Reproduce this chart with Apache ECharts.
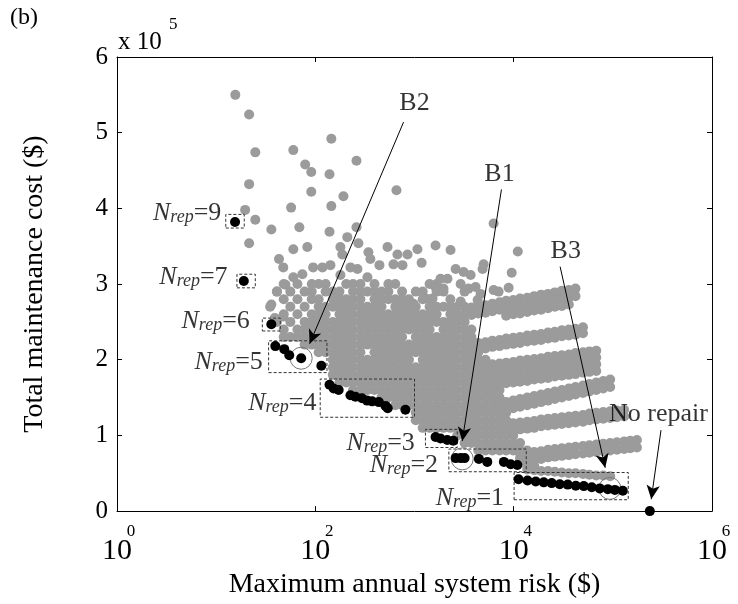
<!DOCTYPE html>
<html>
<head>
<meta charset="utf-8">
<script src="https://cdn.jsdelivr.net/npm/echarts@6/dist/echarts.min.js"></script>
<style>
    html, body {margin: 0; padding: 0; background: #fff;}
    #main {width: 738px; height: 604px;}
</style>
</head>
<body>
<div id="main"></div>
<script>
// risk in $, cost in units of 10^5 $
var frontPoints = [
    [15.5,3.82],
    [19,3.04],
    [36,2.47],
    [39.5,2.18],[48.6,2.14],[54.6,2.06],[72,2.02],[115,1.92],
    [139,1.67],[153,1.62],[172,1.60],[226,1.53],[254,1.51],[296,1.49],[333,1.46],[374,1.45],[437,1.44],[510,1.39],[537,1.36],[810,1.34],
    [1630,0.98],[1830,0.96],[2140,0.94],[2460,0.93],
    [2600,0.70],[2920,0.70],[3200,0.70],[4460,0.69],[5420,0.65],[7970,0.65],[9330,0.62],[10900,0.61],
    [11200,0.42],[13800,0.405],[16700,0.39],[20100,0.38],[24200,0.37],[29200,0.355],[35100,0.35],[42300,0.335],
    [51000,0.33],[61300,0.315],[73800,0.30],[89100,0.29],[105000,0.28],[126000,0.27],
    [236000,0]
];

var grayScattered = [
    [15.6,5.50],[21.5,5.24],[24.8,4.74],[60,4.77],[145,4.92],[79,4.58],[91,4.48],[139,4.45],[260,4.63],
    [21.5,4.32],[91,4.22],[192,4.16],[145,4.03],[57,4.01],[19.6,3.98],[24.8,3.85],[36,3.72],[69,3.75],
    [139,3.69],[260,3.75],[658,4.24],[210,3.62],[6280,3.80],[21.5,3.54],[60,3.46],[83,3.49],[179,3.49],
    [187,3.39],[272,3.54],[343,3.42],[359,3.33],[443,3.25],[534,3.49],[614,3.26],[673,3.39],[850,3.39],
    [756,3.25],[43,3.33],[47.5,3.22],[95,3.22],[118,3.22],[142,3.25],[226,3.22],[266,3.20],[60,3.09],
    [74,3.13],[179,3.12],[335,3.09],[36,2.73],[41,2.90],[50,2.99],[47.5,2.57],[39,2.55],[1070,3.46],
    [1630,3.51],[2310,3.45],[1180,3.28],[11000,3.43],[9550,3.15],[8900,2.95],[7050,2.90],[6280,2.92],
    [4860,3.20],[4980,3.26],[2600,3.20],[3130,3.16],[3680,3.12],[1830,3.07],[2150,3.07],[1630,2.96],
    [1960,2.94],[2920,3.00],[3510,2.94],[4130,2.96],[4640,2.87],[1290,2.81],[1520,2.81],[977,2.74],
    [850,2.70],[2310,2.70],[2920,2.77],[4330,2.79]
];

// dense part of the cloud, one row per cost level: [cost, [risks]]
var grayRows = [
    [3.0, [48,66,92,108,127,205,240,285,395,545,640,1420,1670]],
    [2.9, [41,56,78,92,127,150,175,240,285,335,395,465,545,750,1030,1210,1670,1960,3200]],
    [2.8, [48,66,92,108,150,175,205,240,285,395,465,545,640,750,880,1210,1420,2300]],
    [2.7, [35,56,78,108,127,150,175,205,240,285,335,395,465,640,750,880,1030,1420,1670,1960,2300,2700,3200]],
    [2.6, [48,66,92,108,127,175,205,240,285,335,395,465,545,640,750,880,1030,1210,1420,1670,2300,2700,3200]],
    [2.5, [41,56,78,92,108,127,150,175,205,240,285,335,395,465,545,640,750,880,1030,1210,1420,1670,1960,2300,2700,3200]],
    [2.4, [48,66,78,92,108,127,150,175,205,240,285,335,395,465,545,640,750,880,1030,1210,1420,1960,2300,2700,3200,3750]],
    [2.3, [48,56,66,78,92,108,127,150,175,205,240,285,335,395,465,545,640,750,1030,1210,1420,1670,1960,2300,2700,3200,3750]],
    [2.2, [78,92,108,127,150,175,205,240,285,335,395,465,545,640,750,880,1030,1210,1420,1670,1960,2300,2700,3200,3750,4400]],
    [2.1, [108,127,150,175,205,240,285,395,465,545,640,750,880,1030,1210,1420,1670,1960,2300,2700,3200,3750,4400]],
    [2.0, [150,175,205,240,285,335,395,465,545,640,750,880,1210,1420,1670,1960,2300,2700,3200,3750,4400,5200]],
    [1.9, [150,175,205,240,285,335,395,465,545,640,750,880,1030,1210,1420,1670,1960,2300,2700,3200,3750,4400,5200]],
    [1.8, [150,175,205,240,285,335,395,465,545,640,750,880,1030,1210,1420,1670,1960,2300,2700,3200,3750,4400,5200,6100]],
    [1.7, [175,205,240,285,335,395,465,545,640,750,880,1030,1210,1420,1670,1960,2300,2700,3200,3750,4400,5200,6100]],
    [1.6, [240,285,335,395,465,545,640,750,880,1030,1210,1420,1670,1960,2300,2700,3200,3750,4400,5200,6100,7200]],
    [1.5, [465,545,640,750,880,1030,1210,1420,1670,1960,2300,2700,3200,3750,4400,5200,6100,7200]],
    [1.4, [640,750,880,1030,1210,1420,1670,1960,2300,2700,3200,3750,4400,5200,6100,7200]],
    [1.3, [1030,1210,1420,1670,1960,2300,2700,3200,3750,4400,5200,6100,7200,8400]],
    [1.2, [1030,1210,1420,1670,1960,2300,2700,3200,3750,4400,5200,6100,7200,8400]],
    [1.1, [1210,1420,1670,1960,2300,2700,3200,3750,4400,5200,6100,7200,8400,9900]],
    [1.0, [2700,3200,3750,4400,5200,6100,7200,8400,9900]],
    [0.9, [3200,3750,4400,5200,6100,7200,8400,9900,11600]],
    [0.8, [4400,5200,6100,7200,8400,9900,11600,13700]],
    [0.7, [11600,13700,16100]],
    [0.6, [13700,16100]]
];

// sloping streaks on the right of the cloud
var bandA1 = [[3750,2.69],[4400,2.71],[5200,2.72],[6100,2.74],[7200,2.76],[8400,2.78],[9900,2.79],[11600,2.81],[13700,2.82],[16100,2.84],[18900,2.86],[22200,2.87],[26000,2.89],[30600,2.91],[36000,2.92],[42000,2.94]];
var bandA2 = [[3750,2.59],[4400,2.61],[5200,2.62],[6100,2.64],[7200,2.66],[8400,2.68],[9900,2.69],[11600,2.71],[13700,2.72],[16100,2.74],[18900,2.76],[22200,2.77],[26000,2.79],[30600,2.81],[36000,2.82],[42000,2.84]];
var bandA3 = [[8400,2.58],[9900,2.60],[11600,2.61],[13700,2.63],[16100,2.65],[18900,2.66],[22200,2.68],[26000,2.70],[30600,2.71],[36000,2.73]];
var bandB1 = [[4400,2.22],[5200,2.23],[6100,2.25],[7200,2.26],[8400,2.28],[9900,2.29],[11600,2.30],[13700,2.32],[16100,2.33],[18900,2.34],[22200,2.36],[26000,2.37],[30600,2.39],[36000,2.40],[42000,2.41],[50000,2.43]];
var bandB2 = [[4400,2.14],[5200,2.15],[6100,2.17],[7200,2.18],[8400,2.20],[9900,2.21],[11600,2.22],[13700,2.24],[16100,2.25],[18900,2.26],[22200,2.28],[26000,2.29],[30600,2.31],[36000,2.32],[42000,2.33],[50000,2.35]];
var bandC1 = [[5200,1.92],[6100,1.94],[7200,1.95],[8400,1.96],[9900,1.97],[11600,1.99],[13700,2.00],[16100,2.01],[18900,2.02],[22200,2.04],[26000,2.05],[30600,2.06],[36000,2.07],[42000,2.09],[50000,2.10],[58000,2.11],[68000,2.12]];
var bandC2 = [[5200,1.83],[6100,1.85],[7200,1.86],[8400,1.87],[9900,1.88],[11600,1.90],[13700,1.91],[16100,1.92],[18900,1.93],[22200,1.95],[26000,1.96],[30600,1.97],[36000,1.98],[42000,2.00],[50000,2.01],[58000,2.02],[68000,2.03]];
var bandC3 = [[5200,1.74],[6100,1.75],[7200,1.77],[8400,1.78],[9900,1.79],[11600,1.80],[13700,1.81],[16100,1.83],[18900,1.84],[22200,1.85],[26000,1.87],[30600,1.88],[36000,1.89],[42000,1.90],[50000,1.92],[58000,1.93],[68000,1.94]];
var bandC4 = [[5200,1.65],[6100,1.66],[7200,1.68],[8400,1.69],[9900,1.70],[11600,1.71],[13700,1.72],[16100,1.74],[18900,1.75],[22200,1.76],[26000,1.78],[30600,1.79],[36000,1.80],[42000,1.81],[50000,1.83],[58000,1.84],[68000,1.85]];
var bandD1 = [[7200,1.42],[8400,1.44],[9900,1.46],[11600,1.48],[13700,1.50],[16100,1.52],[18900,1.54],[22200,1.56],[26000,1.58],[30600,1.60],[36000,1.62],[42000,1.64],[50000,1.66],[58000,1.68],[68000,1.70],[80000,1.72],[94000,1.74]];
var bandD2 = [[7200,1.32],[8400,1.34],[9900,1.36],[11600,1.38],[13700,1.40],[16100,1.42],[18900,1.44],[22200,1.46],[26000,1.48],[30600,1.50],[36000,1.52],[42000,1.54],[50000,1.56],[58000,1.58],[68000,1.60],[80000,1.62],[94000,1.64]];
var bandE1 = [[9900,1.16],[11600,1.17],[13700,1.18],[16100,1.19],[18900,1.21],[22200,1.22],[26000,1.23],[30600,1.24],[36000,1.25],[42000,1.26],[50000,1.27],[58000,1.29],[68000,1.30],[80000,1.31],[94000,1.32],[110000,1.33],[130000,1.34]];
var bandE2 = [[9900,1.07],[11600,1.08],[13700,1.09],[16100,1.10],[18900,1.12],[22200,1.13],[26000,1.14],[30600,1.15],[36000,1.16],[42000,1.17],[50000,1.18],[58000,1.20],[68000,1.21],[80000,1.22],[94000,1.23],[110000,1.24],[130000,1.25]];
var bandF1 = [[11600,0.76],[13700,0.77],[16100,0.78],[18900,0.79],[22200,0.81],[26000,0.82],[30600,0.83],[36000,0.84],[42000,0.85],[50000,0.86],[58000,0.87],[68000,0.88],[80000,0.89],[94000,0.90],[110000,0.91],[130000,0.92],[150000,0.93],[175000,0.94]];
var bandF2 = [[11600,0.66],[13700,0.67],[16100,0.68],[18900,0.69],[22200,0.71],[26000,0.72],[30600,0.73],[36000,0.74],[42000,0.75],[50000,0.76],[58000,0.77],[68000,0.78],[80000,0.79],[94000,0.80],[110000,0.81],[130000,0.82],[150000,0.83],[175000,0.84]];
var bandG = [[13700,0.55],[16100,0.54],[18900,0.53],[22200,0.53],[26000,0.52],[30600,0.51],[36000,0.50],[42000,0.50],[50000,0.49],[58000,0.48],[68000,0.47],[80000,0.47],[94000,0.46]];

// dashed boxes round each N_rep group: [lower-left, upper-right]
var groupBoxes = [
    [[12.5,3.74],[19.2,3.92]],
    [[16.2,2.95],[24.8,3.13]],
    [[29.2,2.38],[44.3,2.55]],
    [[33.8,1.83],[131,2.25]],
    [[112,1.24],[1000,1.745]],
    [[1290,0.84],[2700,1.08]],
    [[2220,0.52],[13400,0.82]],
    [[10100,0.15],[143000,0.51]]
];
var nrepLabels = [[9,11.4,3.94],[7,13.2,3.09],[6,22.1,2.51],[5,29.9,1.97],[4,104,1.42],[3,1020,0.90],[2,1750,0.61],[1,8100,0.17]];

var circlePoints = [[72,2.02],[3030,0.69],[93300,0.30]];
var noteLabels = [['B2',1000,5.39],['B1',7200,4.45],['B3',33500,3.43],['No repair',288000,1.28]];
var arrowLines = [
    [[776,5.14],[87.6,2.21]],
    [[7530,4.25],[3030,0.926]],
    [[29400,3.23],[83800,0.573]],
    [[306000,1.07],[244000,0.157]]
];
var xTickValues = [1,100,10000,1000000];

var FONT = 'Liberation Serif';
var GRAY = '#9b9b9b';

var chart = echarts.init(document.getElementById('main'));

var grayPoints = grayScattered.slice();
grayRows.forEach(function(row){
    row[1].forEach(function(r){ grayPoints.push([r, row[0]]); });
});
[bandA1,bandA2,bandA3,bandB1,bandB2,bandC1,bandC2,bandC3,bandC4,bandD1,bandD2,bandE1,bandE2,bandF1,bandF2,bandG].forEach(function(b){
    b.forEach(function(p){ grayPoints.push(p); });
});

function logAxis(pos, showLabel){
    return {
        type: 'log', logBase: 10, min: 1, max: 1000000, position: pos,
        axisLine: {show: true, onZero: false, lineStyle: {color: '#000', width: 1}},
        axisTick: {show: true, inside: true, length: 5, customValues: [100,10000], lineStyle: {color: '#000'}},
        axisLabel: {
            show: showLabel, customValues: xTickValues, margin: 15,
            formatter: function(v){
                return '{e|' + Math.round(Math.log10(v)) + '}\n{b|10}';
            },
            rich: {
                e: {fontFamily: FONT, fontSize: 17, color: '#000', align: 'center', lineHeight: 10, padding: [0,0,0,28]},
                b: {fontFamily: FONT, fontSize: 30, color: '#000', align: 'center', lineHeight: 30}
            }
        },
        splitLine: {show: false}
    };
}

function valAxis(pos, showLabel){
    return {
        type: 'value', min: 0, max: 6, interval: 1, position: pos,
        axisLine: {show: true, onZero: false, lineStyle: {color: '#000', width: 1}},
        axisTick: {show: true, inside: true, length: 5, lineStyle: {color: '#000'}},
        axisLabel: {show: showLabel, margin: 9, fontFamily: FONT, fontSize: 25, color: '#000'},
        splitLine: {show: false}
    };
}

var xBottom = logAxis('bottom', true);
xBottom.name = 'Maximum annual system risk ($)';
xBottom.nameLocation = 'middle';
xBottom.nameGap = 50;
xBottom.nameTextStyle = {fontFamily: FONT, fontSize: 28, color: '#000'};

var yLeft = valAxis('left', true);
yLeft.name = 'Total maintenance cost ($)';
yLeft.nameLocation = 'middle';
yLeft.nameGap = 68;
yLeft.nameTextStyle = {fontFamily: FONT, fontSize: 28, color: '#000'};

var option = {
    animation: false,
    backgroundColor: '#fff',
    textStyle: {fontFamily: FONT},
    grid: {left: 117, right: 26, top: 57, bottom: 87},
    xAxis: [xBottom, logAxis('top', false)],
    yAxis: [yLeft, valAxis('right', false)],
    graphic: [
        {type: 'text', left: 10, top: 6, style: {text: '(b)', fontFamily: FONT, fontSize: 24, fill: '#000'}},
        {type: 'text', left: 118, top: 30, style: {text: 'x 10', fontFamily: FONT, fontSize: 25, fill: '#000'}},
        {type: 'text', left: 169, top: 16, style: {text: '5', fontFamily: FONT, fontSize: 17, fill: '#000'}}
    ],
    series: [
        {
            name: 'all', type: 'scatter', z: 2,
            symbolSize: 10, itemStyle: {color: GRAY, opacity: 1},
            data: grayPoints
        },
        {
            name: 'marks', type: 'scatter', z: 3,
            symbolSize: 22,
            itemStyle: {color: 'rgba(0,0,0,0)', borderColor: '#777', borderWidth: 1, opacity: 1},
            data: circlePoints,
            markArea: {
                silent: true, z: 3,
                itemStyle: {color: 'rgba(0,0,0,0)', borderColor: '#333', borderWidth: 1, borderType: [3,2]},
                data: groupBoxes.map(function(b){ return [{coord: b[0]}, {coord: b[1]}]; })
            }
        },
        {
            name: 'front', type: 'scatter', z: 4, clip: false,
            symbolSize: 10, itemStyle: {color: '#000', opacity: 1},
            data: frontPoints,
            markLine: {
                silent: true, z: 5,
                symbol: ['none', 'arrow'], symbolSize: [10, 14],
                label: {show: false},
                lineStyle: {color: '#000', width: 1, type: 'solid'},
                data: arrowLines.map(function(a){ return [{coord: a[0]}, {coord: a[1]}]; })
            }
        },
        {
            name: 'notes', type: 'scatter', z: 6, clip: false,
            symbolSize: 1, itemStyle: {color: 'rgba(0,0,0,0)'},
            label: {show: true, position: 'inside', fontFamily: FONT, fontSize: 26, color: '#000', formatter: function(p){ return p.data.name; }},
            data: noteLabels.map(function(n){ return {name: n[0], value: [n[1], n[2]]}; })
        },
        {
            name: 'nrep', type: 'scatter', z: 6, clip: false,
            symbolSize: 1, itemStyle: {color: 'rgba(0,0,0,0)'},
            label: {
                show: true, position: 'left', distance: 0,
                formatter: function(p){ return '{n|N}{r|rep}{t|=' + p.data.name + '}'; },
                rich: {
                    n: {fontFamily: FONT, fontSize: 26, fontStyle: 'italic', color: '#000', lineHeight: 26},
                    r: {fontFamily: FONT, fontSize: 18, fontStyle: 'italic', color: '#000', verticalAlign: 'bottom'},
                    t: {fontFamily: FONT, fontSize: 26, color: '#000', lineHeight: 26}
                }
            },
            data: nrepLabels.map(function(n){ return {name: String(n[0]), value: [n[1], n[2]]}; })
        }
    ]
};

chart.setOption(option);
window.onresize = function(){
    chart.resize();
};
</script>
</body>
</html>
